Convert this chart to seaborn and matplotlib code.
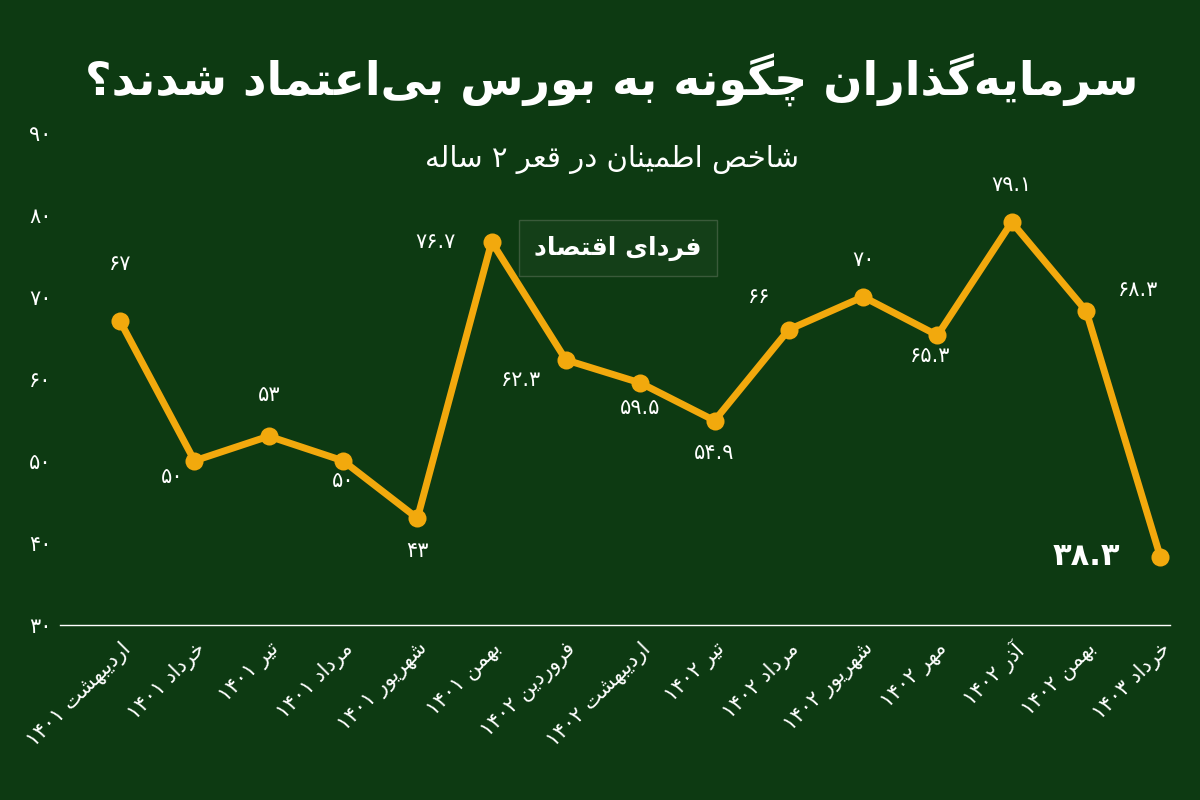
import re
import matplotlib
matplotlib.use("Agg")
import matplotlib.pyplot as plt
import seaborn as sns
import pandas as pd

months = ["اردیبهشت ۱۴۰۱", "خرداد ۱۴۰۱", "تیر ۱۴۰۱", "مرداد ۱۴۰۱", "شهریور ۱۴۰۱",
          "بهمن ۱۴۰۱", "فروردین ۱۴۰۲", "اردیبهشت ۱۴۰۲", "تیر ۱۴۰۲", "مرداد ۱۴۰۲",
          "شهریور ۱۴۰۲", "مهر ۱۴۰۲", "آذر ۱۴۰۲", "بهمن ۱۴۰۲", "خرداد ۱۴۰۳"]
values = [67, 50, 53, 50, 43, 76.7, 62.3, 59.5, 54.9, 66, 70, 65.3, 79.1, 68.3, 38.3]
yticks = [30, 40, 50, 60, 70, 80, 90]
title = "سرمایه‌گذاران چگونه به بورس بی‌اعتماد شدند؟"
subtitle = "شاخص اطمینان در قعر ۲ ساله"
logo = "فردای اقتصاد"

# --- minimal Persian shaping ---
F = {
 'ا': (0xFE8D, 0xFE8E), 'آ': (0xFE81, 0xFE82), 'د': (0xFEA9, 0xFEAA), 'ذ': (0xFEAB, 0xFEAC),
 'ر': (0xFEAD, 0xFEAE), 'ز': (0xFEAF, 0xFEB0), 'ژ': (0xFB8A, 0xFB8B), 'و': (0xFEED, 0xFEEE),
 'ب': (0xFE8F,), 'پ': (0xFB56,), 'ت': (0xFE95,), 'ث': (0xFE99,), 'ج': (0xFE9D,), 'چ': (0xFB7A,),
 'ح': (0xFEA1,), 'خ': (0xFEA5,), 'س': (0xFEB1,), 'ش': (0xFEB5,), 'ص': (0xFEB9,), 'ض': (0xFEBD,),
 'ط': (0xFEC1,), 'ظ': (0xFEC5,), 'ع': (0xFEC9,), 'غ': (0xFECD,), 'ف': (0xFED1,), 'ق': (0xFED5,),
 'ک': (0xFB8E,), 'گ': (0xFB92,), 'ل': (0xFEDD,), 'م': (0xFEE1,), 'ن': (0xFEE5,), 'ه': (0xFEE9,),
 'ی': (0xFBFC,), 'ئ': (0xFE89,),
}
def dual(c): return c in F and len(F[c]) == 1
def joining(c): return c in F

def shape_word(s):
    out = []
    for i, c in enumerate(s):
        if c == '\u200c':
            continue
        if c not in F:
            out.append(c); continue
        p = s[i-1] if i > 0 else ''
        n = s[i+1] if i + 1 < len(s) else ''
        jp = dual(p)
        jn = dual(c) and joining(n)
        b = F[c][0]
        if len(F[c]) == 2:
            out.append(chr(F[c][1] if jp else F[c][0]))
        else:
            off = (3 if jp and jn else 1 if jp else 2 if jn else 0)
            out.append(chr(b + off))
    return ''.join(out)

def fa(s):
    shaped = shape_word(s)
    runs = re.findall(r'[0-9۰-۹.]+|[^0-9۰-۹.]+', shaped)
    runs = [r if re.match(r'[0-9۰-۹.]', r) else r[::-1] for r in runs]
    return ''.join(runs[::-1])

def fnum(v):
    s = ('%g' % v)
    return s.translate(str.maketrans('0123456789', '۰۱۲۳۴۵۶۷۸۹'))

bg = '#0d3a12'
line_c = '#f2a90d'
plt.rcParams['font.family'] = ['DejaVu Sans']
fig = plt.figure(figsize=(12, 8), dpi=100, facecolor=bg)
ax = fig.add_axes([0.05, 0.219, 0.925, 0.615])
ax.set_facecolor(bg)
df = pd.DataFrame({'x': range(len(values)), 'v': values})
sns.lineplot(data=df, x='x', y='v', ax=ax, color=line_c, lw=5, marker='o',
             markersize=13, markeredgewidth=0)
ax.set_ylim(30, 90)
ax.set_xlim(-0.81, 14.13)
for s in ['top', 'right', 'left']:
    ax.spines[s].set_visible(False)
ax.spines['bottom'].set_color('white')
ax.spines['bottom'].set_linewidth(1)
ax.set_yticks(yticks)
ax.set_yticklabels([fnum(t) for t in yticks], color='white', fontsize=15)
ax.tick_params(axis='y', length=0, pad=6)
ax.tick_params(axis='x', length=0, pad=10)
ax.set_xticks(range(len(months)))
ax.set_xticklabels([fa(m) for m in months], rotation=45, ha='right',
                   rotation_mode='anchor', color='white', fontsize=15)
ax.set_xlabel(''); ax.set_ylabel('')

offs = [(0, 7), (-0.3, -2), (0, 5), (0, -2.5), (0, -4), (-0.75, 0), (-0.6, -2.5), (0, -3),
        (0, -4), (-0.4, 4), (0, 4.5), (-0.1, -2.5), (0, 4.5), (0.7, 2.5), (-1.0, 0)]
for i, v in enumerate(values):
    dx, dy = offs[i]
    last = i == len(values) - 1
    ax.text(i + dx, v + dy, fnum(v), color='white', ha='center', va='center',
            fontsize=22 if last else 15, fontweight='bold' if last else 'normal')

fig.text(0.51, 0.9, fa(title), color='white', fontsize=33, fontweight='bold', ha='center', va='center')
fig.text(0.51, 0.80, fa(subtitle), color='white', fontsize=21, ha='center', va='center')
fig.text(0.515, 0.69, fa(logo), color='white', fontsize=18, fontweight='bold', ha='center', va='center',
         bbox=dict(boxstyle='square,pad=0.6', fc='#143f18', ec='#3a5a3a'))
fig.savefig('out.png', facecolor=bg)
